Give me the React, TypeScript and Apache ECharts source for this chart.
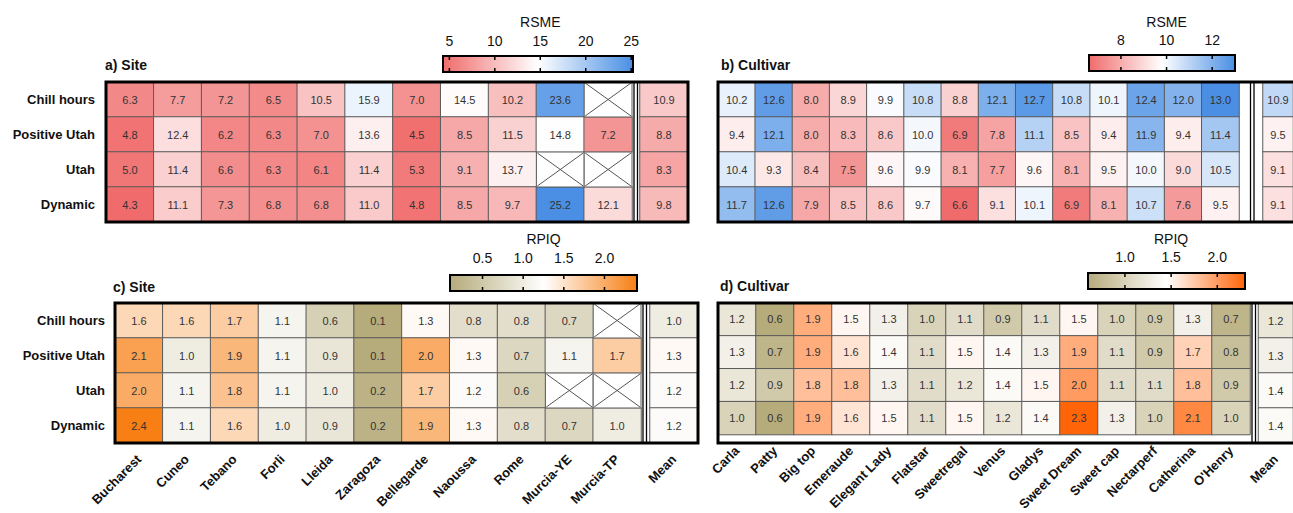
import React, { useEffect, useRef } from 'react';
import * as echarts from 'echarts';

const FONT = 'Arial, "Liberation Sans", Helvetica, sans-serif';

// ---------- categories ----------
const siteNames = ['Bucharest', 'Cuneo', 'Tebano', 'Forli', 'Lleida', 'Zaragoza', 'Bellegarde', 'Naoussa', 'Rome', 'Murcia-YE', 'Murcia-TP'];
const cultivarNames = ['Carla', 'Patty', 'Big top', 'Emeraude', 'Elegant Lady', 'Flatstar', 'Sweetregal', 'Venus', 'Gladys', 'Sweet Dream', 'Sweet cap', 'Nectarperf', 'Catherina', "O'Henry"];
const modelNames = ['Chill hours', 'Positive Utah', 'Utah', 'Dynamic'];
const meanNames = ['Mean'];

// ---------- a) RSME by site ----------
const siteRsmeChillHours = [6.3, 7.7, 7.2, 6.5, 10.5, 15.9, 7.0, 14.5, 10.2, 23.6, null];
const siteRsmePositiveUtah = [4.8, 12.4, 6.2, 6.3, 7.0, 13.6, 4.5, 8.5, 11.5, 14.8, 7.2];
const siteRsmeUtah = [5.0, 11.4, 6.6, 6.3, 6.1, 11.4, 5.3, 9.1, 13.7, null, null];
const siteRsmeDynamic = [4.3, 11.1, 7.3, 6.8, 6.8, 11.0, 4.8, 8.5, 9.7, 25.2, 12.1];
const siteRsmeMean = [10.9, 8.8, 8.3, 9.8];

// ---------- b) RSME by cultivar ----------
const cultivarRsmeChillHours = [10.2, 12.6, 8.0, 8.9, 9.9, 10.8, 8.8, 12.1, 12.7, 10.8, 10.1, 12.4, 12.0, 13.0];
const cultivarRsmePositiveUtah = [9.4, 12.1, 8.0, 8.3, 8.6, 10.0, 6.9, 7.8, 11.1, 8.5, 9.4, 11.9, 9.4, 11.4];
const cultivarRsmeUtah = [10.4, 9.3, 8.4, 7.5, 9.6, 9.9, 8.1, 7.7, 9.6, 8.1, 9.5, 10.0, 9.0, 10.5];
const cultivarRsmeDynamic = [11.7, 12.6, 7.9, 8.5, 8.6, 9.7, 6.6, 9.1, 10.1, 6.9, 8.1, 10.7, 7.6, 9.5];
const cultivarRsmeMean = [10.9, 9.5, 9.1, 9.1];

// ---------- c) RPIQ by site ----------
const siteRpiqChillHours = [1.6, 1.6, 1.7, 1.1, 0.6, 0.1, 1.3, 0.8, 0.8, 0.7, null];
const siteRpiqPositiveUtah = [2.1, 1.0, 1.9, 1.1, 0.9, 0.1, 2.0, 1.3, 0.7, 1.1, 1.7];
const siteRpiqUtah = [2.0, 1.1, 1.8, 1.1, 1.0, 0.2, 1.7, 1.2, 0.6, null, null];
const siteRpiqDynamic = [2.4, 1.1, 1.6, 1.0, 0.9, 0.2, 1.9, 1.3, 0.8, 0.7, 1.0];
const siteRpiqMean = [1.0, 1.3, 1.2, 1.2];

// ---------- d) RPIQ by cultivar ----------
const cultivarRpiqChillHours = [1.2, 0.6, 1.9, 1.5, 1.3, 1.0, 1.1, 0.9, 1.1, 1.5, 1.0, 0.9, 1.3, 0.7];
const cultivarRpiqPositiveUtah = [1.3, 0.7, 1.9, 1.6, 1.4, 1.1, 1.5, 1.4, 1.3, 1.9, 1.1, 0.9, 1.7, 0.8];
const cultivarRpiqUtah = [1.2, 0.9, 1.8, 1.8, 1.3, 1.1, 1.2, 1.4, 1.5, 2.0, 1.1, 1.1, 1.8, 0.9];
const cultivarRpiqDynamic = [1.0, 0.6, 1.9, 1.6, 1.5, 1.1, 1.5, 1.2, 1.4, 2.3, 1.3, 1.0, 2.1, 1.0];
const cultivarRpiqMean = [1.2, 1.3, 1.4, 1.4];

// ---------- colour-bar ticks ----------
const rsmeSiteTicks = [5, 10, 15, 20, 25];
const rsmeCultivarTicks = [8, 10, 12];
const rpiqSiteTicks = [0.5, 1.0, 1.5, 2.0];
const rpiqCultivarTicks = [1.0, 1.5, 2.0];

const RSME_LOW = '#f06c6c';
const RSME_HIGH = '#4a8fe4';
const RPIQ_LOW = '#b6ab7b';

type Panel = {
  title: string;
  cats: string[];
  rows: (number | null)[][];
  mean: number[];
  ticks: number[];
  tickDigits: number;
  barTitle: string;
  colors: string[];
  showX: boolean;
  showY: boolean;
  yMargin: number;
  L: {
    left: number; top: number; width: number; height: number;
    meanLeft: number; meanWidth: number; dbl: number[]; right: number;
    titleX: number; titleY: number;
    bar: number[]; barTitleY: number; barLabelY: number;
  };
};

const panels: Panel[] = [
  {
    title: 'a) Site', cats: siteNames,
    rows: [siteRsmeChillHours, siteRsmePositiveUtah, siteRsmeUtah, siteRsmeDynamic],
    mean: siteRsmeMean, ticks: rsmeSiteTicks, tickDigits: 0, barTitle: 'RSME',
    colors: [RSME_LOW, '#ffffff', RSME_HIGH], showX: false, showY: true, yMargin: 11,
    L: { left: 106, top: 82, width: 526, height: 140, meanLeft: 640, meanWidth: 48, dbl: [634, 637.5], right: 688,
      titleX: 105, titleY: 65, bar: [443, 56, 190, 16], barTitleY: 22, barLabelY: 41 },
  },
  {
    title: 'b) Cultivar', cats: cultivarNames,
    rows: [cultivarRsmeChillHours, cultivarRsmePositiveUtah, cultivarRsmeUtah, cultivarRsmeDynamic],
    mean: cultivarRsmeMean, ticks: rsmeCultivarTicks, tickDigits: 0, barTitle: 'RSME',
    colors: [RSME_LOW, '#ffffff', RSME_HIGH], showX: false, showY: false, yMargin: 10,
    L: { left: 718, top: 82, width: 521, height: 140, meanLeft: 1263, meanWidth: 38, dbl: [1250.5, 1254], right: 1304,
      titleX: 721, titleY: 65, bar: [1089, 55, 146, 16], barTitleY: 22, barLabelY: 40 },
  },
  {
    title: 'c) Site', cats: siteNames,
    rows: [siteRpiqChillHours, siteRpiqPositiveUtah, siteRpiqUtah, siteRpiqDynamic],
    mean: siteRpiqMean, ticks: rpiqSiteTicks, tickDigits: 1, barTitle: 'RPIQ',
    colors: [RPIQ_LOW, '#ffffff', '#f77f14'], showX: true, showY: true, yMargin: 10,
    L: { left: 115, top: 303, width: 526, height: 140, meanLeft: 650, meanWidth: 48, dbl: [643, 646.5], right: 698,
      titleX: 113, titleY: 287, bar: [450, 275, 187, 16], barTitleY: 239, barLabelY: 258 },
  },
  {
    title: 'd) Cultivar', cats: cultivarNames,
    rows: [cultivarRpiqChillHours, cultivarRpiqPositiveUtah, cultivarRpiqUtah, cultivarRpiqDynamic],
    mean: cultivarRpiqMean, ticks: rpiqCultivarTicks, tickDigits: 1, barTitle: 'RPIQ',
    colors: [RPIQ_LOW, '#ffffff', '#ff6409'], showX: true, showY: false, yMargin: 10,
    L: { left: 718, top: 303, width: 532, height: 140, meanLeft: 1258.5, meanWidth: 38, dbl: [1252, 1255.5], right: 1304,
      titleX: 720, titleY: 286, bar: [1088, 273, 157, 16], barTitleY: 239, barLabelY: 257 },
  },
];

function buildOption() {
  const grid: any[] = [];
  const xAxis: any[] = [];
  const yAxis: any[] = [];
  const series: any[] = [];
  const visualMap: any[] = [];
  const graphic: any[] = [];

  const xLabel = {
    show: true, rotate: 45, interval: 0, margin: 14,
    fontFamily: FONT, fontSize: 13, fontWeight: 'bold', color: '#111',
  };
  const hidden = { show: false };

  panels.forEach((p) => {
    const L = p.L;
    const gMain = grid.length;
    grid.push({ left: L.left, top: L.top, width: L.width, height: L.height });
    const gMean = grid.length;
    grid.push({ left: L.meanLeft, top: L.top, width: L.meanWidth, height: L.height });

    const common = { axisLine: hidden, axisTick: hidden, splitLine: hidden, splitArea: hidden };
    xAxis.push({ type: 'category', gridIndex: gMain, data: p.cats, ...common, axisLabel: p.showX ? xLabel : hidden });
    xAxis.push({ type: 'category', gridIndex: gMean, data: meanNames, ...common, axisLabel: p.showX ? xLabel : hidden });
    yAxis.push({
      type: 'category', gridIndex: gMain, data: modelNames, inverse: true, ...common,
      axisLabel: p.showY ? { show: true, margin: p.yMargin, fontFamily: FONT, fontSize: 13, fontWeight: 'bold', color: '#111' } : hidden,
    });
    yAxis.push({ type: 'category', gridIndex: gMean, data: modelNames, inverse: true, ...common, axisLabel: hidden });

    const cells: number[][] = [];
    const missing: number[][] = [];
    p.rows.forEach((row, y) => row.forEach((v, x) => {
      if (v == null) missing.push([x, y]);
      else cells.push([x, y, v]);
    }));
    const meanCells = p.mean.map((v, y) => [0, y, v]);
    const all = cells.map((c) => c[2]).concat(p.mean);
    const min = Math.min(...all);
    const max = Math.max(...all);

    const label = {
      show: true, fontFamily: FONT, fontSize: 11, color: '#333',
      formatter: (q: any) => q.value[2].toFixed(1),
    };
    const itemStyle = { borderColor: '#5a5a5a', borderWidth: 1 };
    const sMain = series.length;
    series.push({ type: 'heatmap', xAxisIndex: gMain, yAxisIndex: gMain, data: cells, label, itemStyle, silent: true, emphasis: { disabled: true } });
    const sMean = series.length;
    series.push({ type: 'heatmap', xAxisIndex: gMean, yAxisIndex: gMean, data: meanCells, label, itemStyle, silent: true, emphasis: { disabled: true } });
    if (missing.length) {
      series.push({
        type: 'custom', xAxisIndex: gMain, yAxisIndex: gMain, data: missing, silent: true, z: 3,
        renderItem: (_params: any, api: any) => {
          const c = api.coord([api.value(0), api.value(1)]);
          const s = api.size([1, 1]);
          const x0 = c[0] - s[0] / 2;
          const y0 = c[1] - s[1] / 2;
          const x1 = x0 + s[0];
          const y1 = y0 + s[1];
          return {
            type: 'group',
            children: [
              { type: 'rect', shape: { x: x0, y: y0, width: s[0], height: s[1] }, style: { fill: '#fff', stroke: '#5a5a5a', lineWidth: 1 } },
              { type: 'line', shape: { x1: x0 + 1, y1: y0 + 1, x2: x1 - 1, y2: y1 - 1 }, style: { stroke: '#555', lineWidth: 1 } },
              { type: 'line', shape: { x1: x1 - 1, y1: y0 + 1, x2: x0 + 1, y2: y1 - 1 }, style: { stroke: '#555', lineWidth: 1 } },
            ],
          };
        },
      });
    }
    visualMap.push({
      show: false, seriesIndex: [sMain, sMean], dimension: 2, min, max,
      inRange: { color: p.colors },
    });

    // panel title
    graphic.push({
      type: 'text', x: L.titleX, y: L.titleY, z: 100,
      style: { text: p.title, fontFamily: FONT, fontSize: 14, fontWeight: 'bold', fill: '#111', align: 'left', verticalAlign: 'middle' },
    });
    // outer thick frame
    graphic.push({
      type: 'rect', z: 100,
      shape: { x: L.left, y: L.top, width: L.right - L.left, height: L.height },
      style: { fill: 'transparent', stroke: '#000', lineWidth: 3 },
    });
    // double separator
    L.dbl.forEach((x) => graphic.push({
      type: 'line', z: 100,
      shape: { x1: x, y1: L.top, x2: x, y2: L.top + L.height },
      style: { stroke: '#000', lineWidth: 1.3 },
    }));

    // colour bar
    const [bx, by, bw, bh] = L.bar;
    graphic.push({
      type: 'rect', z: 100,
      shape: { x: bx, y: by, width: bw, height: bh },
      style: {
        fill: new echarts.graphic.LinearGradient(0, 0, 1, 0, [
          { offset: 0, color: p.colors[0] },
          { offset: 0.5, color: p.colors[1] },
          { offset: 1, color: p.colors[2] },
        ]),
        stroke: '#000', lineWidth: 2,
      },
    });
    const tx = (t: number) => bx + ((t - min) / (max - min)) * bw;
    p.ticks.forEach((t) => {
      const x = tx(t);
      graphic.push({ type: 'line', z: 101, shape: { x1: x, y1: by, x2: x, y2: by + 4 }, style: { stroke: '#000', lineWidth: 1.5 } });
      graphic.push({ type: 'line', z: 101, shape: { x1: x, y1: by + bh - 4, x2: x, y2: by + bh }, style: { stroke: '#000', lineWidth: 1.5 } });
      graphic.push({
        type: 'text', x, y: L.barLabelY, z: 101,
        style: { text: t.toFixed(p.tickDigits), fontFamily: FONT, fontSize: 14, fill: '#111', align: 'center', verticalAlign: 'middle' },
      });
    });
    const tc = (tx(p.ticks[0]) + tx(p.ticks[p.ticks.length - 1])) / 2;
    graphic.push({
      type: 'text', x: tc, y: L.barTitleY, z: 101,
      style: { text: p.barTitle, fontFamily: FONT, fontSize: 14, fill: '#111', align: 'center', verticalAlign: 'middle' },
    });
  });

  return {
    animation: false,
    backgroundColor: '#ffffff',
    textStyle: { fontFamily: FONT },
    grid, xAxis, yAxis, series, visualMap, graphic,
  };
}

export default function App() {
  const ref = useRef<HTMLDivElement>(null);
  useEffect(() => {
    if (!ref.current) return;
    const chart = echarts.init(ref.current, undefined, { renderer: 'svg' });
    chart.setOption(buildOption() as any);
    return () => chart.dispose();
  }, []);
  return (
    <div
      ref={ref}
      style={{ position: 'fixed', left: 0, top: 0, width: 1293, height: 513, background: '#fff' }}
    />
  );
}
